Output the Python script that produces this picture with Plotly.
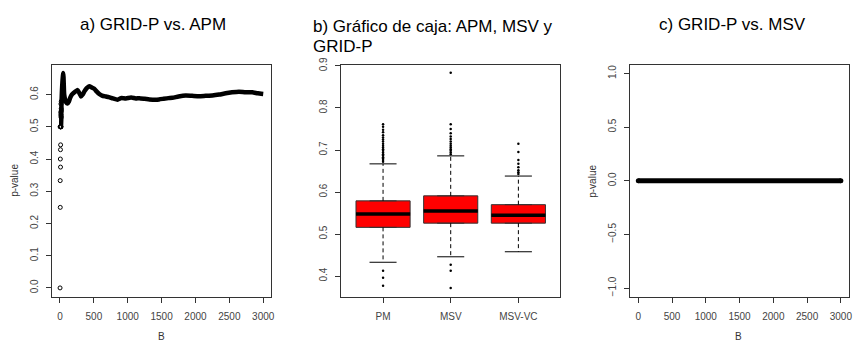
import plotly.graph_objects as go

W, H = 854, 343

# ---------------- Panel a data: GRID-P vs. APM ----------------
early_B = [1, 2, 3, 4, 5, 6, 7, 8, 9, 10, 11, 12, 13, 14, 15, 16, 17, 18, 19, 20]
early_p = [0.0, 0.5, 0.333, 0.25, 0.4, 0.5, 0.429, 0.375, 0.444, 0.5, 0.545, 0.5,
           0.538, 0.571, 0.533, 0.5, 0.529, 0.556, 0.579, 0.55]
main_B = [12, 16, 20, 24, 28, 32, 36, 40, 44, 48, 52, 56, 62, 75, 90, 110, 130, 150,
          175, 200, 230, 260, 285, 310, 335, 360, 395, 432, 470, 506, 540, 580, 620,
          678, 720, 780, 850, 900, 973, 1050, 1120, 1170, 1250, 1320, 1416, 1463,
          1530, 1600, 1660, 1750, 1856, 1950, 2052, 2150, 2249, 2350, 2445, 2540,
          2641, 2740, 2838, 2920, 3000]
main_p = [0.5, 0.5, 0.55, 0.583, 0.607, 0.625, 0.639, 0.65, 0.659, 0.667, 0.654,
          0.63, 0.60, 0.585, 0.576, 0.572, 0.578, 0.59, 0.60, 0.605, 0.61, 0.614,
          0.605, 0.594, 0.60, 0.61, 0.62, 0.626, 0.622, 0.618, 0.61, 0.602, 0.597,
          0.594, 0.592, 0.588, 0.584, 0.589, 0.588, 0.591, 0.588, 0.589, 0.587,
          0.585, 0.584, 0.585, 0.587, 0.589, 0.59, 0.594, 0.597, 0.596, 0.595,
          0.596, 0.597, 0.60, 0.604, 0.607, 0.609, 0.607, 0.607, 0.604, 0.602]

# ---------------- Panel b data: boxplot ----------------
box_names = ["PM", "MSV", "MSV-VC"]
box_pos = [1, 2, 3]
box_q1 = [0.516, 0.526, 0.526]
box_med = [0.548, 0.555, 0.545]
box_q3 = [0.579, 0.591, 0.570]
box_lw = [0.433, 0.446, 0.458]
box_uw = [0.667, 0.686, 0.638]
out_PM = [0.672, 0.676, 0.68, 0.683, 0.687, 0.69, 0.694, 0.698, 0.702, 0.706, 0.71,
          0.715, 0.72, 0.725, 0.73, 0.735, 0.742, 0.748, 0.755, 0.761,
          0.413, 0.396, 0.377]
out_MSV = [0.69, 0.694, 0.698, 0.702, 0.706, 0.71, 0.715, 0.72, 0.726, 0.732, 0.74,
           0.75, 0.761, 0.884, 0.427, 0.413, 0.372]
out_VC = [0.643, 0.647, 0.652, 0.659, 0.667, 0.676, 0.695, 0.715]
outliers = [out_PM, out_MSV, out_VC]

# ---------------- Panel c data: GRID-P vs. MSV ----------------
c_B = [1, 3000]
c_p = [0.0, 0.0]

FONT = "Liberation Sans, Arial, sans-serif"
TICKC = "#444444"
LINEC = "#333333"

fig = go.Figure()

# Panel a
fig.add_trace(go.Scatter(x=main_B, y=main_p, mode="lines",
                         line=dict(color="black", width=4.5, shape="spline", smoothing=0.5),
                         xaxis="x", yaxis="y", showlegend=False))
fig.add_trace(go.Scatter(x=early_B, y=early_p, mode="markers",
                         marker=dict(symbol="circle-open", size=4, color="black",
                                     line=dict(width=1, color="black")),
                         xaxis="x", yaxis="y", showlegend=False))

# Panel b
bw = 0.8
for i, name in enumerate(box_names):
    c = box_pos[i]
    fig.add_trace(go.Scatter(x=[c, c, None, c, c],
                             y=[box_q3[i], box_uw[i], None, box_q1[i], box_lw[i]],
                             mode="lines", line=dict(color="black", width=1, dash="4px,3px"),
                             xaxis="x2", yaxis="y2", showlegend=False))
    fig.add_trace(go.Scatter(x=[c - bw / 4, c + bw / 4, None, c - bw / 4, c + bw / 4],
                             y=[box_uw[i], box_uw[i], None, box_lw[i], box_lw[i]],
                             mode="lines", line=dict(color="black", width=1),
                             xaxis="x2", yaxis="y2", showlegend=False))
    fig.add_trace(go.Box(x=[c], q1=[box_q1[i]], median=[box_med[i]], q3=[box_q3[i]],
                         lowerfence=[box_q1[i]], upperfence=[box_q3[i]],
                         width=bw, fillcolor="#FF0000",
                         line=dict(color=LINEC, width=1),
                         xaxis="x2", yaxis="y2", showlegend=False, hoverinfo="skip"))
    fig.add_trace(go.Scatter(x=[c - bw / 2, c + bw / 2], y=[box_med[i], box_med[i]],
                             mode="lines", line=dict(color="black", width=3.5),
                             xaxis="x2", yaxis="y2", showlegend=False))
    fig.add_trace(go.Scatter(x=[c] * len(outliers[i]), y=outliers[i], mode="markers",
                             marker=dict(color="black", size=2.5),
                             xaxis="x2", yaxis="y2", showlegend=False))

# Panel c
fig.add_trace(go.Scatter(x=c_B, y=c_p, mode="lines+markers",
                         line=dict(color="black", width=5),
                         marker=dict(color="black", size=5),
                         xaxis="x3", yaxis="y3", showlegend=False))

ydom = [1 - 295.5 / H, 1 - 58.3 / H]
axis_common = dict(showline=True, mirror=True, linecolor=LINEC, linewidth=1,
                   ticks="outside", ticklen=5, tickwidth=1, tickcolor=LINEC,
                   showgrid=False, zeroline=False,
                   tickfont=dict(family=FONT, size=10, color=TICKC))

fig.update_layout(
    width=W, height=H, margin=dict(l=0, r=0, t=0, b=0),
    paper_bgcolor="white", plot_bgcolor="white",
    font=dict(family=FONT),
    xaxis=dict(domain=[51.7 / W, 272.3 / W], range=[-125, 3120],
               tickvals=[0, 500, 1000, 1500, 2000, 2500, 3000],
               ticklabelstandoff=5, anchor="y", **axis_common),
    yaxis=dict(domain=ydom, range=[-0.027, 0.692],
               tickvals=[0.0, 0.1, 0.2, 0.3, 0.4, 0.5, 0.6], tickformat=".1f",
               tickangle=-90, ticklabelstandoff=4, anchor="x", **axis_common),
    xaxis2=dict(domain=[342.3 / W, 562.3 / W], range=[0.38, 3.62],
                tickvals=box_pos, ticktext=box_names,
                ticklabelstandoff=5, anchor="y2", **axis_common),
    yaxis2=dict(domain=ydom, range=[0.3513, 0.9023],
                tickvals=[0.4, 0.5, 0.6, 0.7, 0.8, 0.9], tickformat=".1f",
                tickangle=-90, ticklabelstandoff=4, anchor="x2", **axis_common),
    xaxis3=dict(domain=[632.7 / W, 852.3 / W], range=[-115, 3125],
                tickvals=[0, 500, 1000, 1500, 2000, 2500, 3000],
                ticklabelstandoff=5, anchor="y3", **axis_common),
    yaxis3=dict(domain=ydom, range=[-1.08, 1.08],
                tickvals=[-1.0, -0.5, 0.0, 0.5, 1.0], tickformat=".1f",
                tickangle=-90, ticklabelstandoff=4, anchor="x3", **axis_common),
)

ann = []
title_font = dict(family=FONT, size=17, color="black")
ann.append(dict(text="a) GRID-P vs. APM", x=154 / W, y=1 - 17 / H, xref="paper", yref="paper",
                xanchor="center", yanchor="middle", showarrow=False, font=title_font))
ann.append(dict(text="b) Gráfico de caja: APM, MSV y", x=312 / W, y=1 - 19 / H,
                xref="paper", yref="paper", xanchor="left", yanchor="middle",
                showarrow=False, font=title_font))
ann.append(dict(text="GRID-P", x=312 / W, y=1 - 39 / H,
                xref="paper", yref="paper", xanchor="left", yanchor="middle",
                showarrow=False, font=title_font))
ann.append(dict(text="c) GRID-P vs. MSV", x=735 / W, y=1 - 17 / H, xref="paper", yref="paper",
                xanchor="center", yanchor="middle", showarrow=False, font=title_font))
lab_font = dict(family=FONT, size=10, color="#333333")
ann.append(dict(text="p-value", x=15 / W, y=1 - 176 / H, xref="paper", yref="paper",
                xanchor="center", yanchor="middle", textangle=-90, showarrow=False, font=lab_font))
ann.append(dict(text="p-value", x=595 / W, y=1 - 177 / H, xref="paper", yref="paper",
                xanchor="center", yanchor="middle", textangle=-90, showarrow=False, font=lab_font))
ann.append(dict(text="B", x=162 / W, y=1 - 336 / H, xref="paper", yref="paper",
                xanchor="center", yanchor="middle", showarrow=False, font=lab_font))
ann.append(dict(text="B", x=741 / W, y=1 - 336 / H, xref="paper", yref="paper",
                xanchor="center", yanchor="middle", showarrow=False, font=lab_font))
fig.update_layout(annotations=ann)

fig.write_html("out.html")
